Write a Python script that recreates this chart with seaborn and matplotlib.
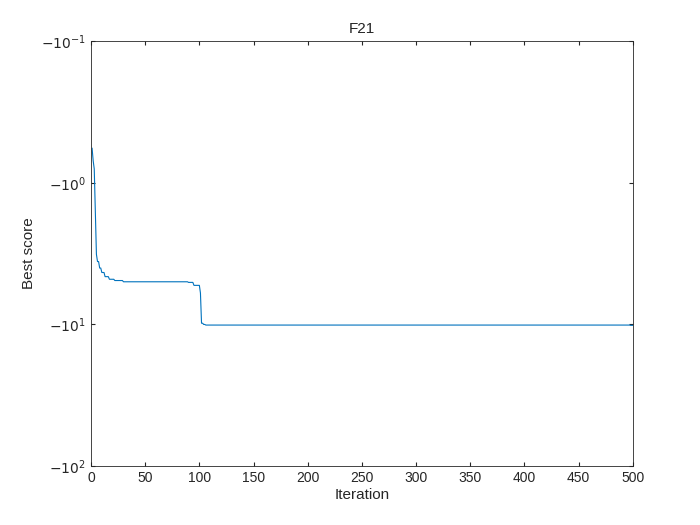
import numpy as np
import pandas as pd
import matplotlib
matplotlib.use("Agg")
import matplotlib.pyplot as plt
import seaborn as sns
from matplotlib.ticker import FixedLocator, NullLocator

# change points of best score (iteration where new value begins, score)
change_iters = [1, 2, 3, 4, 5, 6, 8, 10, 13, 17, 22, 30, 90, 95, 101, 102, 104, 106, 498]
change_scores = [-0.57, -0.70, -0.80, -1.6, -3.2, -3.6, -4.0, -4.3, -4.6, -4.8, -4.9, -5.0, -5.05, -5.3, -6.0, -9.8, -10.0, -10.1, -10.15]
n_iter = 500

iters = np.arange(1, n_iter + 1)
scores = np.empty(n_iter)
for i, (s, v) in enumerate(zip(change_iters, change_scores)):
    e = change_iters[i + 1] if i + 1 < len(change_iters) else n_iter + 1
    scores[s - 1:e - 1] = v
df = pd.DataFrame({"Iteration": iters, "mag": -scores})

sns.set_style("white")
plt.rcParams['font.family'] = ['Liberation Sans', 'DejaVu Sans']
fig = plt.figure(figsize=(7, 5.25), dpi=100)
ax = fig.add_axes([0.13, 0.112, 0.774, 0.81])
sns.lineplot(data=df, x="Iteration", y="mag", ax=ax, color="#0072BD", linewidth=0.8)
ax.set_yscale("log")
ax.set_ylim(100, 0.1)
ax.set_xlim(0, 500)
ax.yaxis.set_major_locator(FixedLocator([0.1, 1, 10, 100]))
ax.yaxis.set_minor_locator(NullLocator())
ax.set_yticklabels(["$-10^{-1}$", "$-10^{0}$", "$-10^{1}$", "$-10^{2}$"])
ax.set_xticks(range(0, 501, 50))
ax.set_xlabel("Iteration", fontsize=11, labelpad=2)
ax.set_ylabel("Best score", fontsize=11)
ax.set_title("F21", fontsize=11)
for s in ax.spines.values():
    s.set_color("#262626"); s.set_linewidth(0.6)
ax.tick_params(direction="in", length=3, labelsize=10, colors="#262626", right=True, top=True, left=True, bottom=True)
fig.savefig("out.png", dpi=100)
